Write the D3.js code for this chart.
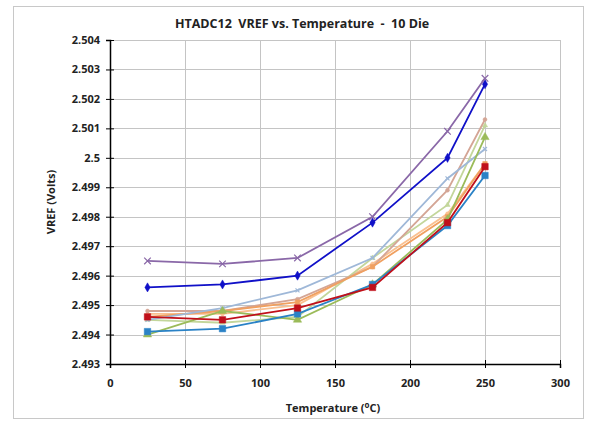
<!DOCTYPE html>
<html>
<head>
<meta charset="utf-8">
<script src="https://cdn.jsdelivr.net/npm/d3@7"></script>
<style>
  body { margin: 0; background: #fff; }
  text { font-family: "Open Sans", "Liberation Sans", sans-serif; }
</style>
</head>
<body>
<svg width="590" height="425"></svg>
<script>
const temps = [25, 75, 125, 175, 225, 250];
const xTicks = [0, 50, 100, 150, 200, 250, 300];
const yTicks = [2.493, 2.494, 2.495, 2.496, 2.497, 2.498, 2.499, 2.5, 2.501, 2.502, 2.503, 2.504];

// one array per die
const die1 = [2.4965, 2.4964, 2.4966, 2.4980, 2.5009, 2.5027];
const die2 = [2.4956, 2.4957, 2.4960, 2.4978, 2.5000, 2.5025];
const die3 = [2.4946, 2.4945, 2.4949, 2.4956, 2.4978, 2.4997];
const die4 = [2.4941, 2.4942, 2.4947, 2.4957, 2.4977, 2.4994];
const die5 = [2.4940, 2.4948, 2.4945, 2.4957, 2.4979, 2.5007];
const die6 = [2.4945, 2.4949, 2.4955, 2.4966, 2.4993, 2.5003];
const die7 = [2.4946, 2.4948, 2.4951, 2.4963, 2.4980, 2.4998];
const die8 = [2.4948, 2.4948, 2.4952, 2.4963, 2.4989, 2.5013];
const die9 = [2.4945, 2.4944, 2.4946, 2.4966, 2.4984, 2.5011];
const die10 = [2.4947, 2.4947, 2.4950, 2.4964, 2.4981, 2.4998];

const series = [
  { values: die10, color: '#fac090', marker: 'circle', size: 12 },
  { values: die9, color: '#c3d69b', marker: 'triangle', size: 12 },
  { values: die8, color: '#d4a595', marker: 'circle', size: 12 },
  { values: die7, color: '#f0a060', marker: 'square', size: 20 },
  { values: die6, color: '#9fb8d8', marker: 'cross', size: 12 },
  { values: die5, color: '#9bbb59', marker: 'triangle', size: 30 },
  { values: die4, color: '#2a82c6', marker: 'square', size: 42 },
  { values: die3, color: '#c0101a', marker: 'square', size: 42 },
  { values: die2, color: '#1010c8', marker: 'diamond', size: 24 },
  { values: die1, color: '#8a68a8', marker: 'cross', size: 30 }
];

const margin = { top: 40, right: 30, bottom: 61, left: 110 };
const width = 590 - margin.left - margin.right;
const height = 425 - margin.top - margin.bottom;

const svg = d3.select('svg');

svg.append('rect')
  .attr('x', 13.5).attr('y', 6.5)
  .attr('width', 570).attr('height', 412)
  .attr('fill', 'none').attr('stroke', '#c8c8c8');

const x = d3.scaleLinear().domain([0, 300]).range([0, width]);
const y = d3.scaleLinear().domain([2.493, 2.504]).range([height, 0]);

const g = svg.append('g').attr('transform', `translate(${margin.left},${margin.top})`);

// gridlines
g.append('g').selectAll('line')
  .data(yTicks.slice(1))
  .enter().append('line')
    .attr('x1', 0).attr('x2', width)
    .attr('y1', d => Math.round(y(d)) + 0.5).attr('y2', d => Math.round(y(d)) + 0.5)
    .attr('stroke', '#c4c4c4');
g.append('g').selectAll('line')
  .data(xTicks.slice(1))
  .enter().append('line')
    .attr('y1', 0).attr('y2', height)
    .attr('x1', d => Math.round(x(d)) + 0.5).attr('x2', d => Math.round(x(d)) + 0.5)
    .attr('stroke', '#c4c4c4');

// axes
const xAxis = g.append('g')
  .attr('transform', `translate(0,${height})`)
  .call(d3.axisBottom(x).tickValues(xTicks).tickSize(4).tickPadding(8).tickFormat(d3.format('d')));
xAxis.selectAll('.tick line').attr('y1', -4);
const yAxis = g.append('g')
  .call(d3.axisLeft(y).tickValues(yTicks).tickSize(4).tickPadding(6).tickFormat(d => d3.format('')(+d.toFixed(3))));
yAxis.selectAll('.tick line').attr('x1', 4);

[xAxis, yAxis].forEach(ax => {
  ax.select('.domain').attr('stroke', '#000').attr('stroke-width', 1.5);
  ax.selectAll('.tick line').attr('stroke', '#000');
  ax.selectAll('.tick text')
    .attr('fill', '#222')
    .style('font-size', '11px')
    .style('font-weight', 'bold');
});
xAxis.selectAll('.tick text').attr('dy', '1em');

// lines
const line = d3.line()
  .x((d, i) => x(temps[i]))
  .y(d => y(d));

const symbolTypes = {
  circle: d3.symbolCircle,
  square: d3.symbolSquare,
  triangle: d3.symbolTriangle,
  diamond: d3.symbolDiamond,
  cross: d3.symbolX
};

series.forEach(s => {
  g.append('path')
    .datum(s.values)
    .attr('fill', 'none')
    .attr('stroke', s.color)
    .attr('stroke-width', 1.8)
    .attr('d', line);

  const sym = d3.symbol().type(symbolTypes[s.marker]).size(s.size);
  g.append('g').selectAll('path')
    .data(s.values)
    .enter().append('path')
      .attr('transform', (d, i) => `translate(${x(temps[i])},${y(d)})`)
      .attr('d', sym)
      .attr('fill', s.marker === 'cross' ? 'none' : s.color)
      .attr('stroke', s.color)
      .attr('stroke-width', s.marker === 'cross' ? 1.2 : 0.5);
});

// title
svg.append('text')
  .attr('x', 302).attr('y', 28)
  .attr('text-anchor', 'middle')
  .style('white-space', 'pre')
  .style('font-size', '12.5px')
  .style('font-weight', 'bold')
  .attr('fill', '#222')
  .text('HTADC12  VREF vs. Temperature  -  10 Die');

const xTitle = svg.append('text')
  .attr('x', margin.left + x(150) - 2).attr('y', 412)
  .attr('text-anchor', 'middle')
  .style('font-size', '11px')
  .style('font-weight', 'bold')
  .attr('fill', '#222');
xTitle.append('tspan').text('Temperature (');
xTitle.append('tspan').text('o').attr('dy', -4).style('font-size', '8px');
xTitle.append('tspan').text('C)').attr('dy', 4);

svg.append('text')
  .attr('transform', `translate(55,${margin.top + y(2.4985)}) rotate(-90)`)
  .attr('text-anchor', 'middle')
  .style('font-size', '11px')
  .style('font-weight', 'bold')
  .attr('fill', '#222')
  .text('VREF (Volts)');
</script>
</body>
</html>
